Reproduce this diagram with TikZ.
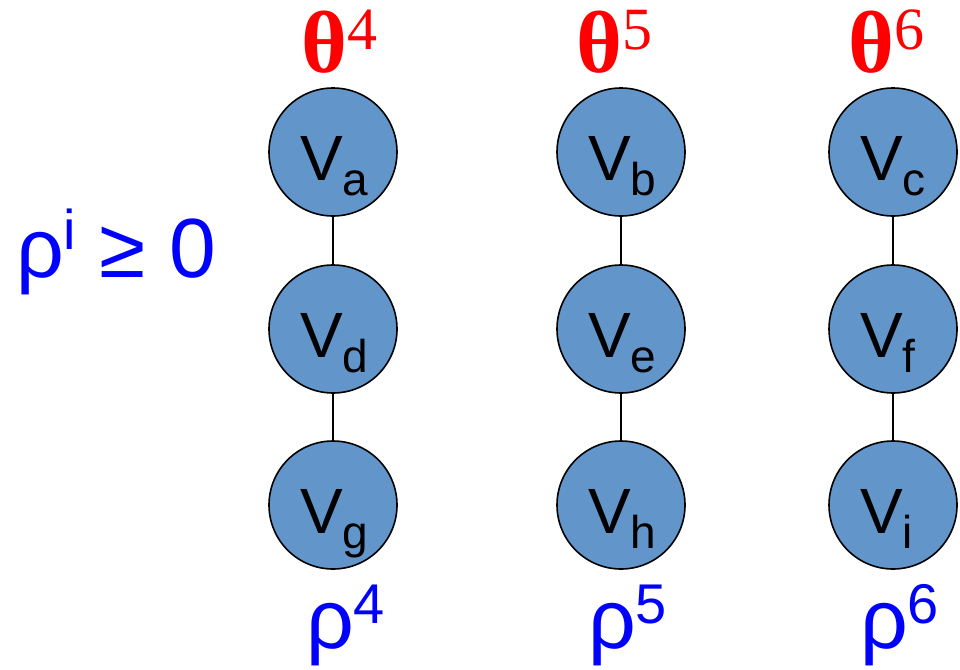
\documentclass[tikz,border=0pt]{standalone}
\usepackage{fontspec}
\setmainfont{Liberation Sans}
\newfontfamily\seriffont{Liberation Serif}
\definecolor{nodefill}{RGB}{98,150,203}
\newcommand\vlab[1]{{\fontsize{64}{64}\selectfont V}\raisebox{-15pt}{\fontsize{46}{46}\selectfont #1}}
\newcommand\thsup[1]{\raisebox{23pt}{\mdseries\fontsize{60}{60}\selectfont #1}}
\begin{document}
\begin{tikzpicture}[x=1pt,y=-1pt,
  vnode/.style={circle,draw=black,line width=1.6pt,fill=nodefill,minimum size=128pt,inner sep=0pt},
  vtext/.style={anchor=base west,inner sep=0pt},
  link/.style={line width=1.2pt},
  thetalab/.style={text=red,anchor=base west,inner sep=0pt,font=\seriffont\bfseries\fontsize{88}{88}\selectfont},
  rholab/.style={text=blue,anchor=base west,inner sep=0pt,font=\fontsize{84}{84}\selectfont}]
\useasboundingbox (0,0) rectangle (960,669);
% columns
\foreach \x/\a/\b/\c/\n in {333/a/d/g/1, 621/b/e/h/2, 893/c/f/i/3}{
  \node[vnode] (t\n) at (\x,152) {};
  \node[vnode] (m\n) at (\x,329) {};
  \node[vnode] (b\n) at (\x,505) {};
  \draw[link] (t\n) -- (m\n);
  \draw[link] (m\n) -- (b\n);
  \path (t\n.center) ++(-33,28) node[vtext] (tt\n) {\vlab{\a}};
  \path (m\n.center) ++(-33,28) node[vtext] (mt\n) {\vlab{\b}};
  \path (b\n.center) ++(-33,28) node[vtext] (bt\n) {\vlab{\c}};
}
\node[thetalab] (th4) at (301,72) {θ\thsup{4}};
\node[thetalab] (th5) at (576,72) {θ\thsup{5}};
\node[thetalab] (th6) at (848,72) {θ\thsup{6}};
\node[rholab] (r4) at (306,648) {ρ\raisebox{25pt}{\fontsize{56}{56}\selectfont 4}};
\node[rholab] (r5) at (588,648) {ρ\raisebox{25pt}{\fontsize{56}{56}\selectfont 5}};
\node[rholab] (r6) at (860,648) {ρ\raisebox{25pt}{\fontsize{56}{56}\selectfont 6}};
\node[rholab] (ri) at (16,277) {ρ\raisebox{28pt}{\fontsize{56}{56}\selectfont i} ≥ 0};
\end{tikzpicture}
\end{document}
